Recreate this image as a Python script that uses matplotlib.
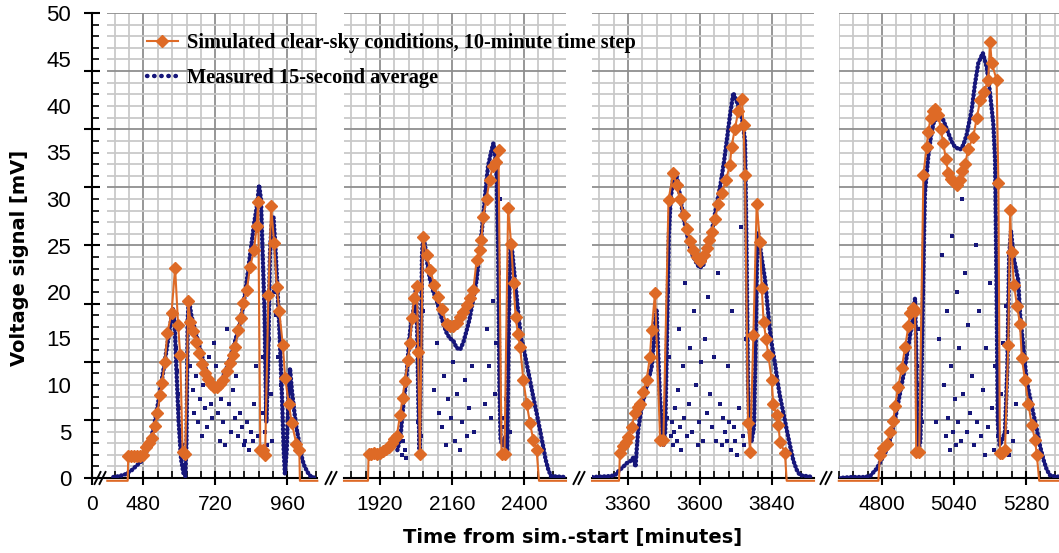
import matplotlib
matplotlib.use('Agg')
import matplotlib.pyplot as plt
from matplotlib.ticker import MultipleLocator
from matplotlib.lines import Line2D

# simulated clear-sky, day 1 (minutes, mV)
sim1_t = [360, 428, 430, 440, 450, 460, 470, 480, 490, 500, 510, 520, 527, 536, 542, 552, 560, 574, 586,
          596, 603, 611, 620, 630, 637, 645, 655, 665, 675, 685, 695, 705, 715, 724, 735, 747, 758, 769,
          778, 786, 797, 805, 813, 825, 836, 849, 858, 863, 870, 880, 886, 897, 906, 916, 925, 933, 945,
          953, 965, 975, 990, 1000, 1002, 1060]
sim1_v = [-0.3, -0.3, 2.4, 2.4, 2.4, 2.4, 2.4, 2.5, 3.3, 3.8, 4.3, 5.6, 7.0, 8.9, 10.2, 12.5, 15.6, 17.7, 22.6,
          16.5, 13.2, 2.8, 2.6, 19.0, 16.8, 15.8, 14.6, 13.4, 12.3, 11.3, 10.6, 10.1, 9.8, 9.8, 10.1, 10.5, 11.5, 12.4,
          13.2, 14.1, 15.9, 17.2, 18.8, 20.2, 22.7, 24.5, 27.1, 29.7, 3.0, 3.0, 2.5, 19.7, 29.2, 25.3, 20.5, 18.0, 14.3,
          10.7, 8.0, 5.9, 3.7, 3.0, -0.3, -0.3]
# measured 15-second average, day 1
meas1_t = [380, 400, 420, 440, 460, 480, 490, 500, 510, 520, 530, 540, 550, 560, 570, 578, 584, 590, 598, 606,
           614, 620, 624, 628, 632, 640, 650, 660, 670, 680, 690, 700, 710, 718, 726, 734, 742, 750, 760, 770,
           780, 790, 800, 810, 820, 830, 840, 850, 860, 866, 872, 878, 884, 890, 896, 902, 908, 914, 920, 927,
           935, 942, 948, 952, 958, 964, 969, 975, 982, 990, 1002, 1010, 1018, 1030, 1040, 1058]
meas1_v = [0.1, 0.2, 0.4, 0.8, 1.4, 2.0, 2.8, 3.6, 4.8, 6.3, 8.2, 10.2, 12.2, 14.3, 16.4, 18.3, 17.0, 12.0, 6.0, 2.0,
           0.5, 0.2, 4.0, 17.0, 19.2, 17.5, 16.2, 15.0, 13.8, 12.6, 11.6, 10.8, 10.2, 9.8, 9.5, 10.0, 10.6, 11.2, 12.0, 13.0,
           14.0, 15.2, 16.4, 18.0, 20.0, 22.5, 25.0, 27.5, 29.5, 31.5, 30.0, 24.0, 18.0, 6.0, 12.0, 24.0, 27.5, 28.0, 25.0, 20.5,
           15.0, 9.0, 3.0, 0.5, 3.0, 9.0, 11.8, 9.5, 7.5, 5.5, 3.4, 2.0, 1.2, 0.5, 0.1, 0.0]
dots1_t = [588, 592, 596, 600, 604, 608, 612, 616, 636, 644, 650, 656, 662, 668, 674, 680, 686, 692, 698, 704,
           710, 716, 722, 728, 734, 740, 746, 752, 760, 766, 772, 778, 784, 790, 796, 802, 808, 814, 820, 826,
           832, 838, 844, 850, 856, 862, 868, 874, 880, 886, 892, 898, 904, 910, 916, 922, 930, 938]
dots1_v = [14.0, 11.5, 9.0, 7.5, 5.0, 3.5, 2.5, 3.0, 12.0, 9.5, 7.0, 11.0, 6.0, 8.5, 4.5, 10.0, 7.5, 5.5, 13.0, 8.0,
           6.5, 14.5, 12.0, 7.0, 4.0, 8.5, 6.0, 3.5, 16.0, 8.0, 5.0, 9.5, 6.5, 11.0, 4.5, 7.0, 5.5, 3.5, 4.0, 6.0,
           3.0, 5.0, 4.0, 8.0, 12.0, 4.5, 3.0, 7.0, 13.0, 5.0, 3.5, 15.0, 9.0, 4.0, 20.0, 17.5, 13.0, 10.0]

# day 2
sim2_t = [1800, 1880, 1882, 1890, 1900, 1910, 1920, 1930, 1940, 1950, 1960, 1968, 1976, 1987, 1995, 2003, 2013,
          2020, 2027, 2033, 2043, 2047, 2053, 2063, 2075, 2088, 2100, 2112, 2125, 2142, 2153, 2164, 2176, 2187,
          2198, 2209, 2220, 2231, 2242, 2252, 2258, 2264, 2275, 2285, 2296, 2306, 2315, 2325, 2335, 2347, 2357,
          2365, 2372, 2380, 2387, 2398, 2409, 2420, 2431, 2442, 2450, 2540]
sim2_v = [-0.3, -0.3, 2.6, 2.6, 2.7, 2.6, 2.7, 2.9, 3.1, 3.3, 3.8, 4.2, 4.5, 6.8, 8.6, 10.4, 12.7,
          14.5, 17.2, 19.4, 20.6, 13.6, 2.6, 25.9, 24.0, 22.4, 20.8, 19.5, 18.2, 16.6, 16.3, 16.3, 16.7, 17.3,
          17.9, 18.6, 19.4, 20.2, 23.4, 24.5, 25.6, 28.1, 30.0, 32.0, 33.5, 34.0, 35.3, 2.6, 2.6, 29.0, 25.2,
          21.0, 17.3, 15.5, 14.1, 10.5, 8.0, 5.9, 4.1, 3.0, -0.3, -0.3]
meas2_t = [1978, 1985, 1990, 1995, 2000, 2006, 2012, 2018, 2024, 2030, 2036, 2040, 2044, 2048, 2052, 2056, 2060,
           2064, 2070, 2078, 2087, 2098, 2109, 2120, 2131, 2142, 2153, 2164, 2175, 2187, 2198, 2209, 2218, 2226,
           2234, 2242, 2253, 2264, 2272, 2280, 2290, 2298, 2304, 2309, 2314, 2318, 2322, 2330, 2338, 2344, 2350,
           2355, 2359, 2370, 2381, 2390, 2398, 2409, 2420, 2431, 2442, 2453, 2464, 2472, 2481, 2490, 2537]
meas2_v = [3.0, 4.0, 5.0, 7.0, 8.5, 10.0, 12.5, 15.0, 16.8, 17.7, 19.1, 20.5, 16.0, 8.0, 3.0, 12.0, 24.0,
           26.0, 25.0, 23.0, 21.3, 20.0, 19.1, 17.8, 16.6, 15.6, 15.0, 14.8, 14.0, 13.8, 14.6, 15.9, 17.0, 18.4,
           19.8, 21.3, 24.5, 28.1, 31.0, 33.5, 35.0, 36.0, 34.5, 32.4, 24.0, 10.0, 4.0, 3.5, 4.5, 3.0, 18.0,
           25.5, 24.9, 21.3, 17.7, 15.0, 14.1, 12.3, 10.5, 8.7, 7.0, 5.2, 3.4, 2.0, 0.9, 0.2, 0.1]
dots2_t = [1994, 1998, 2002, 2006, 2046, 2050, 2054, 2058, 2062, 2100, 2110, 2118, 2126, 2134, 2140, 2148, 2156,
           2162, 2170, 2178, 2186, 2194, 2202, 2210, 2218, 2226, 2234, 2270, 2278, 2284, 2290, 2296, 2302, 2306,
           2312, 2316, 2320, 2326, 2332, 2336, 2340, 2342, 2346, 2352]
dots2_v = [2.5, 4.0, 3.0, 2.2, 6.0, 10.0, 14.0, 4.5, 18.0, 9.5, 14.5, 7.0, 5.5, 11.0, 3.5, 8.5, 6.5,
           12.5, 4.0, 9.0, 3.0, 6.0, 10.5, 4.5, 7.5, 12.0, 5.0, 8.0, 16.0, 12.0, 6.5, 19.0, 9.0, 14.5,
           27.0, 22.0, 30.0, 5.5, 6.5, 2.5, 8.5, 12.0, 20.0, 5.0]

# day 3
sim3_t = [3240, 3330, 3333, 3344, 3352, 3361, 3372, 3383, 3392, 3400, 3411, 3422, 3433, 3439, 3450, 3467, 3478,
          3495, 3511, 3522, 3533, 3545, 3556, 3567, 3578, 3590, 3600, 3613, 3622, 3630, 3639, 3650, 3661, 3672,
          3686, 3700, 3705, 3716, 3728, 3739, 3745, 3750, 3760, 3767, 3778, 3789, 3800, 3806, 3812, 3820, 3828,
          3839, 3844, 3855, 3861, 3867, 3883, 3889, 3980]
sim3_v = [-0.3, -0.3, 2.7, 3.4, 3.9, 4.4, 5.5, 7.0, 7.6, 8.0, 9.3, 10.5, 13.0, 15.9, 19.9, 4.1, 4.1,
          29.9, 32.8, 31.5, 30.0, 28.3, 26.8, 25.5, 24.5, 23.8, 23.3, 24.0, 24.7, 25.6, 26.5, 27.9, 29.5, 30.6,
          32.0, 33.7, 35.6, 37.5, 39.5, 40.8, 38.0, 32.6, 5.9, 2.8, 15.4, 29.5, 25.4, 20.4, 16.8, 15.0, 13.2,
          10.5, 8.0, 6.8, 5.7, 3.9, 2.7, -0.3, -0.3]
meas3_t = [3240, 3300, 3317, 3330, 3344, 3356, 3367, 3378, 3385, 3390, 3394, 3406, 3417, 3428, 3439, 3446, 3450,
           3455, 3460, 3466, 3472, 3478, 3484, 3490, 3496, 3502, 3510, 3518, 3525, 3535, 3545, 3555, 3565, 3575,
           3587, 3598, 3610, 3620, 3632, 3645, 3656, 3668, 3680, 3690, 3700, 3711, 3722, 3733, 3741, 3750, 3755,
           3760, 3765, 3772, 3780, 3786, 3790, 3794, 3805, 3817, 3825, 3833, 3841, 3850, 3858, 3867, 3878, 3889,
           3900, 3911, 3922, 3933, 3977]
meas3_v = [0.1, 0.2, 0.3, 0.8, 1.2, 1.6, 1.8, 2.2, 1.2, 3.5, 5.2, 7.7, 9.1, 10.5, 12.0, 14.5, 16.6,
           18.0, 14.0, 9.0, 6.0, 3.5, 5.0, 15.0, 26.0, 30.0, 32.0, 33.0, 32.0, 30.0, 28.0, 26.5, 25.0, 24.0,
           23.2, 22.6, 22.8, 23.8, 25.5, 27.5, 29.5, 31.5, 34.0, 36.5, 39.0, 41.4, 40.5, 39.6, 38.5, 36.3, 25.0,
           10.0, 5.0, 4.0, 5.5, 15.0, 24.0, 26.3, 23.8, 21.3, 18.5, 15.9, 14.0, 12.3, 10.5, 8.7, 7.0, 5.2,
           3.5, 1.9, 0.9, 0.3, 0.1]
dots3_t = [3482, 3486, 3490, 3494, 3498, 3502, 3506, 3510, 3514, 3518, 3522, 3526, 3530, 3534, 3538, 3542, 3546,
           3550, 3556, 3562, 3568, 3574, 3580, 3586, 3592, 3598, 3604, 3610, 3616, 3622, 3628, 3634, 3640, 3646,
           3652, 3660, 3666, 3672, 3678, 3684, 3690, 3694, 3698, 3702, 3706, 3712, 3718, 3724, 3730, 3736, 3742,
           3748, 3754]
dots3_v = [8.0, 11.0, 6.5, 20.0, 13.0, 4.5, 6.0, 3.5, 5.0, 7.5, 4.0, 9.5, 16.0, 5.5, 3.0, 12.0, 6.5,
           21.0, 4.5, 8.0, 14.0, 5.0, 18.0, 10.0, 3.5, 6.0, 12.5, 4.0, 15.0, 7.0, 19.5, 9.0, 5.5, 13.0,
           4.0, 22.0, 8.0, 3.5, 6.5, 5.0, 4.0, 12.0, 6.0, 3.0, 18.0, 5.5, 4.0, 2.5, 7.5, 27.0, 4.5,
           3.5, 15.0]

# day 4
sim4_t = [4656, 4788, 4793, 4804, 4816, 4827, 4838, 4843, 4854, 4866, 4877, 4888, 4893, 4902, 4910, 4914, 4924,
          4938, 4949, 4954, 4962, 4970, 4977, 4988, 4996, 5004, 5013, 5021, 5030, 5038, 5049, 5060, 5068, 5077,
          5088, 5104, 5116, 5127, 5140, 5154, 5160, 5166, 5182, 5188, 5193, 5200, 5210, 5221, 5227, 5232, 5240,
          5250, 5260, 5266, 5277, 5288, 5299, 5310, 5316, 5324, 5400]
sim4_v = [-0.3, -0.3, 2.5, 3.2, 3.7, 5.0, 6.1, 7.7, 9.8, 11.8, 14.1, 16.3, 17.7, 18.3, 18.0, 2.8, 2.8,
          32.6, 35.6, 37.2, 38.7, 39.5, 39.7, 39.0, 37.5, 36.0, 34.3, 32.8, 32.2, 31.9, 31.5, 32.0, 33.0, 33.8,
          35.4, 36.7, 38.7, 40.6, 41.5, 42.8, 46.9, 44.6, 42.8, 31.7, 2.7, 2.7, 3.0, 14.3, 28.8, 24.3, 20.8,
          18.5, 16.6, 12.9, 10.5, 8.0, 5.7, 4.1, 2.5, -0.3, -0.3]
meas4_t = [4656, 4700, 4740, 4760, 4782, 4804, 4815, 4827, 4843, 4860, 4877, 4893, 4904, 4910, 4914, 4918, 4922,
           4928, 4934, 4940, 4943, 4954, 4962, 4971, 4988, 5004, 5021, 5032, 5043, 5060, 5071, 5082, 5099, 5110,
           5121, 5136, 5149, 5160, 5171, 5177, 5182, 5186, 5192, 5200, 5210, 5218, 5224, 5230, 5240, 5254, 5260,
           5271, 5282, 5293, 5304, 5316, 5327, 5338, 5349, 5360, 5371, 5400]
meas4_v = [0.0, 0.1, 0.1, 0.2, 1.0, 2.3, 3.0, 4.1, 6.2, 9.1, 12.0, 15.2, 17.7, 19.3, 14.0, 5.0, 3.0,
           4.0, 15.0, 26.0, 30.6, 34.5, 36.5, 38.1, 39.0, 38.5, 37.1, 36.2, 35.6, 35.3, 35.8, 36.9, 39.6, 42.4,
           44.6, 45.7, 44.2, 41.4, 38.1, 34.2, 20.0, 6.0, 3.5, 4.0, 5.0, 12.0, 24.0, 26.5, 23.5, 21.3, 17.7,
           14.1, 10.5, 8.7, 7.0, 5.2, 3.4, 2.0, 0.9, 0.3, 0.2, 0.1]
dots4_t = [4916, 4920, 4924, 4928, 4932, 4936, 4980, 4990, 5000, 5006, 5012, 5016, 5020, 5026, 5030, 5034, 5038,
           5042, 5046, 5050, 5054, 5058, 5062, 5066, 5070, 5076, 5082, 5088, 5094, 5100, 5106, 5112, 5118, 5124,
           5130, 5136, 5142, 5148, 5154, 5160, 5166, 5172, 5178, 5184, 5188, 5196, 5204, 5212, 5218, 5224, 5236,
           5246]
dots4_v = [12.0, 8.0, 16.0, 10.0, 6.0, 20.0, 6.0, 15.0, 24.0, 10.0, 4.5, 18.0, 6.5, 3.0, 12.0, 26.0, 5.0,
           8.5, 3.5, 20.0, 6.0, 14.0, 4.0, 30.0, 9.0, 22.0, 5.0, 16.5, 7.0, 11.0, 3.5, 25.0, 6.0, 18.0,
           4.5, 9.5, 2.5, 14.0, 5.5, 21.0, 7.5, 3.0, 12.0, 28.0, 4.5, 9.0, 14.5, 18.5, 5.0, 2.5, 4.0,
           8.0]

y_labels = [0, 5, 10, 15, 20, 25, 30, 35, 40, 45, 50]

orange = '#DE6A26'
navy = '#16167A'
W, H = 1059, 553
TOP, BOT = 13, 478
SCALE = 0.3  # pixels per minute


def rect(left, right):
    return [left / W, 1 - BOT / H, (right - left) / W, (BOT - TOP) / H]


plt.rcParams['font.family'] = 'Liberation Sans'
fig = plt.figure(figsize=(W / 100, H / 100), dpi=100)

# origin piece with the y axis
ax0 = fig.add_axes(rect(92, 107.3))
ax0.set_xlim(0, 1)
ax0.set_ylim(0, 50)
ax0.yaxis.set_major_locator(MultipleLocator(6.25))
ax0.yaxis.set_minor_locator(MultipleLocator(1.25))
ax0.tick_params(axis='y', which='major', direction='inout', length=12, width=1.5, labelleft=False)
ax0.tick_params(axis='y', which='minor', direction='in', length=5, width=1.2)
ax0.set_xticks([0])
ax0.set_xticklabels(['0'])
ax0.tick_params(axis='x', direction='inout', length=10, width=1.5, labelsize=15, pad=7)
for s in ['top', 'right']:
    ax0.spines[s].set_visible(False)
ax0.spines['left'].set_linewidth(1.5)
ax0.spines['bottom'].set_linewidth(1.5)
sec = ax0.secondary_yaxis('left')
sec.set_yticks(y_labels)
sec.tick_params(length=0, labelsize=16, pad=15)
sec.spines['left'].set_visible(False)

panels = [
    (360, 1060, 107.3, sim1_t, sim1_v, meas1_t, meas1_v, dots1_t, dots1_v),
    (1800, 2540, 344, sim2_t, sim2_v, meas2_t, meas2_v, dots2_t, dots2_v),
    (3240, 3980, 592, sim3_t, sim3_v, meas3_t, meas3_v, dots3_t, dots3_v),
    (4656, 5400, 838.8, sim4_t, sim4_v, meas4_t, meas4_v, dots4_t, dots4_v),
]

for xmin, xmax, left, st, sv, mt, mv, dt, dv in panels:
    ax = fig.add_axes(rect(left, left + (xmax - xmin) * SCALE))
    ax.set_xlim(xmin, xmax)
    ax.set_ylim(0, 50)
    ax.xaxis.set_major_locator(MultipleLocator(240))
    ax.xaxis.set_minor_locator(MultipleLocator(48))
    ax.yaxis.set_major_locator(MultipleLocator(6.25))
    ax.yaxis.set_minor_locator(MultipleLocator(1.25))
    ax.grid(which='minor', color='#c9c9c9', lw=1.3)
    ax.grid(which='major', color='#8f8f8f', lw=1.3)
    ax.set_axisbelow(True)
    ax.tick_params(axis='y', which='both', left=False, labelleft=False)
    ax.tick_params(axis='x', which='major', direction='inout', length=10, width=1.5, labelsize=15, pad=7)
    ax.tick_params(axis='x', which='minor', direction='in', length=5, width=1.2)
    for s in ['top', 'right', 'left']:
        ax.spines[s].set_visible(False)
    ax.spines['bottom'].set_linewidth(1.5)

    ax.plot(mt, mv, color=navy, lw=3.2, ls=(0, (0.1, 0.8)), dash_capstyle='round', zorder=3)
    ax.plot(dt, dv, ls='none', marker='s', ms=2.6, mew=0, color=navy, zorder=3)
    marks = [i for i, v in enumerate(sv) if v > 0]
    ax.plot(st, sv, color=orange, lw=1.5, marker='D', ms=6.5, markevery=marks, clip_on=False, zorder=4)

# axis break marks
for xb in [100, 331, 579, 826]:
    for dx in [-2.5, 2.5]:
        x0 = (xb + dx - 3) / W
        x1 = (xb + dx + 3) / W
        fig.add_artist(Line2D([x0, x1], [1 - (BOT + 6) / H, 1 - (BOT - 6) / H], color='black', lw=1.4))

fig.text(573 / W, 1 - 538 / H, 'Time from sim.-start [minutes]', ha='center', va='center',
         fontsize=14, fontweight='bold', family='DejaVu Sans')
fig.text(20 / W, 1 - 258 / H, 'Voltage signal [mV]', ha='center', va='center', rotation=90,
         fontsize=14, fontweight='bold', family='DejaVu Sans')

h_sim = Line2D([], [], color=orange, lw=1.5, marker='D', ms=6.5)
h_meas = Line2D([], [], color=navy, lw=3.2, ls=(0, (0.1, 1.5)), dash_capstyle='round')
fig.legend([h_sim, h_meas], ['Simulated clear-sky conditions, 10-minute time step', 'Measured 15-second average'],
           loc='upper left', bbox_to_anchor=(147 / W, 1 - 33 / H), frameon=False, borderpad=0,
           borderaxespad=0, handlelength=1.5, handletextpad=0.45, labelspacing=0.75,
           prop={'family': 'Liberation Serif', 'weight': 'bold', 'size': 14.7})

fig.savefig('out.png', dpi=100)
